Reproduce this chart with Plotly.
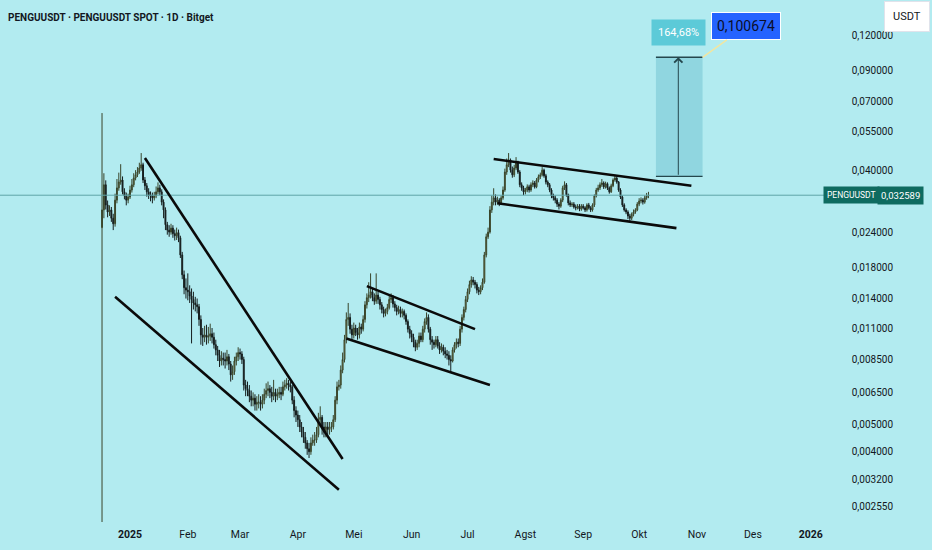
import numpy as np
import pandas as pd
import plotly.graph_objects as go

# daily candles, Bitget PENGUUSDT, starting at listing day
first_day = '2024-12-17'
first_open = 0.0250
closes = [
    0.0289, 0.0355, 0.0301, 0.0284, 0.0289, 0.0270, 0.0258, 0.0313, 0.0346, 0.0363,
    0.0369, 0.0335, 0.0324, 0.0313, 0.0321, 0.0340, 0.0355, 0.0375, 0.0385, 0.0394,
    0.0407, 0.0418, 0.0369, 0.0352, 0.0335, 0.0327, 0.0324, 0.0319, 0.0324, 0.0335,
    0.0346, 0.0335, 0.0308, 0.0289, 0.0256, 0.0245, 0.0241, 0.0249, 0.0238, 0.0234,
    0.0240, 0.0230, 0.0200, 0.0170, 0.0153, 0.0150, 0.0148, 0.0143, 0.0139, 0.0135,
    0.0133, 0.0131, 0.0118, 0.0104, 0.0102, 0.0104, 0.0102, 0.0103, 0.0105, 0.0102,
    0.0096, 0.0092, 0.0088, 0.0084, 0.0086, 0.0085, 0.0084, 0.0087, 0.0082, 0.0075,
    0.0077, 0.0084, 0.0087, 0.0090, 0.0089, 0.0085, 0.0069, 0.0067, 0.0066, 0.0063,
    0.0061, 0.0062, 0.0059, 0.0060, 0.0060, 0.0059, 0.0061, 0.0064, 0.0066, 0.0067,
    0.0065, 0.0063, 0.0065, 0.0063, 0.0064, 0.0065, 0.0064, 0.0068, 0.0069, 0.0070,
    0.0069, 0.0068, 0.0061, 0.0056, 0.0054, 0.0052, 0.0049, 0.0047, 0.0045, 0.0043,
    0.0041, 0.0040, 0.0043, 0.0044, 0.0044, 0.0046, 0.0052, 0.0053, 0.0049, 0.0047,
    0.0049, 0.0048, 0.0049, 0.0049, 0.0052, 0.0061, 0.0068, 0.0069, 0.0078, 0.0085,
    0.0100, 0.0118, 0.0120, 0.0109, 0.0104, 0.0110, 0.0106, 0.0104, 0.0111, 0.0109,
    0.0118, 0.0133, 0.0141, 0.0144, 0.0148, 0.0141, 0.0137, 0.0144, 0.0139, 0.0133,
    0.0128, 0.0124, 0.0126, 0.0130, 0.0139, 0.0141, 0.0134, 0.0130, 0.0126, 0.0128,
    0.0124, 0.0126, 0.0122, 0.0116, 0.0109, 0.0105, 0.0102, 0.0098, 0.0094, 0.0097,
    0.0103, 0.0100, 0.0109, 0.0116, 0.0120, 0.0109, 0.0100, 0.0098, 0.0096, 0.0100,
    0.0095, 0.0092, 0.0094, 0.0091, 0.0089, 0.0088, 0.0085, 0.0084, 0.0092, 0.0096,
    0.0098, 0.0097, 0.0109, 0.0120, 0.0128, 0.0139, 0.0148, 0.0157, 0.0163, 0.0160,
    0.0157, 0.0150, 0.0148, 0.0153, 0.0160, 0.0200, 0.0232, 0.0241, 0.0289, 0.0308,
    0.0319, 0.0308, 0.0313, 0.0306, 0.0319, 0.0340, 0.0394, 0.0418, 0.0435, 0.0400,
    0.0385, 0.0407, 0.0428, 0.0394, 0.0355, 0.0346, 0.0335, 0.0340, 0.0349, 0.0340,
    0.0355, 0.0360, 0.0349, 0.0369, 0.0379, 0.0385, 0.0400, 0.0382, 0.0363, 0.0355,
    0.0340, 0.0324, 0.0319, 0.0313, 0.0303, 0.0298, 0.0313, 0.0346, 0.0355, 0.0327,
    0.0306, 0.0301, 0.0303, 0.0296, 0.0294, 0.0298, 0.0291, 0.0298, 0.0294, 0.0289,
    0.0301, 0.0294, 0.0289, 0.0301, 0.0324, 0.0340, 0.0346, 0.0355, 0.0360, 0.0349,
    0.0358, 0.0346, 0.0335, 0.0352, 0.0369, 0.0375, 0.0363, 0.0340, 0.0321, 0.0301,
    0.0289, 0.0284, 0.0275, 0.0270, 0.0279, 0.0284, 0.0289, 0.0303, 0.0311, 0.0313,
    0.0308, 0.0319, 0.0324, 0.032589,
]
highs = [
    0.0638, 0.0390, 0.0368, 0.0312, 0.0300, 0.0296, 0.0280, 0.0330, 0.0372, 0.0392,
    0.0420, 0.0380, 0.0345, 0.0333, 0.0330, 0.0352, 0.0372, 0.0390, 0.0400, 0.0410,
    0.0425, 0.0460, 0.0425, 0.0378, 0.0360, 0.0345, 0.0336, 0.0333, 0.0335, 0.0350,
    0.0362, 0.0355, 0.0342, 0.0315, 0.0295, 0.0262, 0.0255, 0.0258, 0.0255, 0.0246,
    0.0250, 0.0246, 0.0234, 0.0205, 0.0176, 0.0165, 0.0172, 0.0156, 0.0152, 0.0148,
    0.0142, 0.0140, 0.0134, 0.0122, 0.0110, 0.0112, 0.0113, 0.0111, 0.0114, 0.0110,
    0.0106, 0.0100, 0.0095, 0.0092, 0.0091, 0.0090, 0.0090, 0.0092, 0.0089, 0.0084,
    0.0081, 0.0087, 0.0090, 0.0094, 0.0093, 0.0091, 0.0087, 0.0072, 0.0071, 0.0069,
    0.0066, 0.0065, 0.0064, 0.0063, 0.0064, 0.0063, 0.0064, 0.0067, 0.0070, 0.0071,
    0.0069, 0.0068, 0.0072, 0.0067, 0.0067, 0.0068, 0.0068, 0.0071, 0.0072, 0.0073,
    0.0072, 0.0071, 0.0069, 0.0063, 0.0058, 0.0056, 0.0054, 0.0051, 0.0049, 0.0047,
    0.0044, 0.0043, 0.0045, 0.0046, 0.0047, 0.0049, 0.0055, 0.0058, 0.0054, 0.0051,
    0.0051, 0.0051, 0.0051, 0.0051, 0.0054, 0.0063, 0.0071, 0.0072, 0.0081, 0.0090,
    0.0104, 0.0125, 0.0135, 0.0124, 0.0113, 0.0115, 0.0113, 0.0110, 0.0115, 0.0114,
    0.0122, 0.0137, 0.0146, 0.0160, 0.0172, 0.0152, 0.0146, 0.0172, 0.0148, 0.0142,
    0.0136, 0.0131, 0.0129, 0.0134, 0.0143, 0.0146, 0.0144, 0.0137, 0.0133, 0.0132,
    0.0131, 0.0129, 0.0128, 0.0124, 0.0118, 0.0112, 0.0108, 0.0105, 0.0100, 0.0100,
    0.0106, 0.0106, 0.0112, 0.0119, 0.0125, 0.0123, 0.0111, 0.0103, 0.0100, 0.0103,
    0.0103, 0.0098, 0.0097, 0.0096, 0.0094, 0.0092, 0.0091, 0.0088, 0.0094, 0.0098,
    0.0101, 0.0101, 0.0112, 0.0123, 0.0131, 0.0143, 0.0152, 0.0162, 0.0168, 0.0167,
    0.0163, 0.0160, 0.0154, 0.0156, 0.0165, 0.0205, 0.0238, 0.0250, 0.0298, 0.0325,
    0.0345, 0.0328, 0.0322, 0.0318, 0.0325, 0.0350, 0.0405, 0.0440, 0.0460, 0.0440,
    0.0412, 0.0418, 0.0445, 0.0432, 0.0400, 0.0362, 0.0352, 0.0346, 0.0356, 0.0355,
    0.0362, 0.0368, 0.0366, 0.0375, 0.0386, 0.0392, 0.0410, 0.0405, 0.0388, 0.0368,
    0.0360, 0.0345, 0.0330, 0.0325, 0.0318, 0.0308, 0.0318, 0.0352, 0.0365, 0.0360,
    0.0330, 0.0312, 0.0308, 0.0308, 0.0302, 0.0303, 0.0303, 0.0303, 0.0303, 0.0298,
    0.0305, 0.0306, 0.0298, 0.0305, 0.0328, 0.0346, 0.0355, 0.0362, 0.0372, 0.0365,
    0.0364, 0.0362, 0.0350, 0.0358, 0.0374, 0.0385, 0.0380, 0.0366, 0.0345, 0.0325,
    0.0305, 0.0293, 0.0288, 0.0280, 0.0283, 0.0290, 0.0293, 0.0308, 0.0318, 0.0320,
    0.0318, 0.0325, 0.0332, 0.0335,
]
lows = [
    0.0020, 0.0270, 0.0290, 0.0272, 0.0275, 0.0262, 0.0245, 0.0252, 0.0305, 0.0338,
    0.0355, 0.0328, 0.0315, 0.0300, 0.0305, 0.0316, 0.0333, 0.0348, 0.0368, 0.0378,
    0.0388, 0.0398, 0.0360, 0.0340, 0.0322, 0.0316, 0.0310, 0.0305, 0.0312, 0.0318,
    0.0328, 0.0326, 0.0300, 0.0270, 0.0245, 0.0236, 0.0232, 0.0236, 0.0230, 0.0225,
    0.0226, 0.0222, 0.0195, 0.0164, 0.0145, 0.0140, 0.0138, 0.0135, 0.0097, 0.0128,
    0.0126, 0.0124, 0.0112, 0.0096, 0.0095, 0.0098, 0.0096, 0.0097, 0.0099, 0.0097,
    0.0093, 0.0088, 0.0084, 0.0080, 0.0081, 0.0081, 0.0079, 0.0081, 0.0078, 0.0071,
    0.0072, 0.0075, 0.0081, 0.0084, 0.0085, 0.0082, 0.0066, 0.0063, 0.0063, 0.0060,
    0.0058, 0.0058, 0.0056, 0.0056, 0.0057, 0.0056, 0.0057, 0.0059, 0.0062, 0.0063,
    0.0062, 0.0060, 0.0061, 0.0060, 0.0061, 0.0062, 0.0061, 0.0063, 0.0066, 0.0067,
    0.0066, 0.0065, 0.0059, 0.0053, 0.0051, 0.0049, 0.0047, 0.0045, 0.0043, 0.0041,
    0.0039, 0.0038, 0.0039, 0.0042, 0.0042, 0.0043, 0.0045, 0.0050, 0.0046, 0.0045,
    0.0045, 0.0046, 0.0046, 0.0047, 0.0048, 0.0051, 0.0059, 0.0066, 0.0067, 0.0076,
    0.0083, 0.0097, 0.0112, 0.0105, 0.0100, 0.0101, 0.0103, 0.0100, 0.0101, 0.0105,
    0.0107, 0.0115, 0.0129, 0.0136, 0.0140, 0.0137, 0.0133, 0.0134, 0.0134, 0.0128,
    0.0124, 0.0120, 0.0121, 0.0123, 0.0128, 0.0135, 0.0130, 0.0126, 0.0122, 0.0123,
    0.0120, 0.0120, 0.0118, 0.0113, 0.0106, 0.0101, 0.0098, 0.0094, 0.0091, 0.0092,
    0.0094, 0.0098, 0.0098, 0.0106, 0.0113, 0.0106, 0.0096, 0.0092, 0.0093, 0.0094,
    0.0093, 0.0089, 0.0090, 0.0088, 0.0086, 0.0085, 0.0081, 0.0077, 0.0083, 0.0090,
    0.0093, 0.0094, 0.0095, 0.0106, 0.0117, 0.0125, 0.0136, 0.0145, 0.0153, 0.0156,
    0.0152, 0.0146, 0.0144, 0.0145, 0.0150, 0.0158, 0.0196, 0.0228, 0.0238, 0.0282,
    0.0300, 0.0300, 0.0302, 0.0298, 0.0302, 0.0314, 0.0335, 0.0385, 0.0410, 0.0392,
    0.0376, 0.0378, 0.0400, 0.0388, 0.0348, 0.0338, 0.0326, 0.0328, 0.0334, 0.0333,
    0.0335, 0.0348, 0.0344, 0.0345, 0.0362, 0.0372, 0.0380, 0.0376, 0.0356, 0.0348,
    0.0334, 0.0318, 0.0312, 0.0305, 0.0296, 0.0290, 0.0294, 0.0308, 0.0340, 0.0322,
    0.0300, 0.0296, 0.0296, 0.0292, 0.0288, 0.0290, 0.0286, 0.0287, 0.0290, 0.0284,
    0.0285, 0.0290, 0.0284, 0.0285, 0.0296, 0.0320, 0.0335, 0.0340, 0.0349, 0.0343,
    0.0344, 0.0340, 0.0330, 0.0332, 0.0348, 0.0364, 0.0358, 0.0335, 0.0316, 0.0296,
    0.0285, 0.0279, 0.0268, 0.0264, 0.0266, 0.0274, 0.0280, 0.0286, 0.0298, 0.0305,
    0.0302, 0.0304, 0.0314, 0.0318,
]

# hand-drawn trend lines (start, end)
wedge_top_dates = ['2025-01-09', '2025-04-25']
wedge_top_prices = [0.0442, 0.00377]
wedge_bot_dates = ['2024-12-24', '2025-04-23']
wedge_bot_prices = [0.0142, 0.00293]
flag_top_dates = ['2025-05-08', '2025-07-05']
flag_top_prices = [0.0155, 0.0109]
flag_bot_dates = ['2025-04-27', '2025-07-13']
flag_bot_prices = [0.0101, 0.0069]
chan_top_dates = ['2025-07-15', '2025-10-29']
chan_top_prices = [0.0438, 0.0352]
chan_bot_dates = ['2025-07-17', '2025-10-21']
chan_bot_prices = [0.0305, 0.0249]

# price-range projection
proj_dates = ['2025-10-10', '2025-11-04']
proj_mid = '2025-10-22'
proj_base = 0.03804
proj_target = 0.100674
proj_pct = '164,68%'
last_price = 0.032589

y_ticks = [0.00255, 0.0032, 0.004, 0.005, 0.0065, 0.0085, 0.011, 0.014,
           0.018, 0.024, 0.04, 0.055, 0.07, 0.09, 0.12]
month_ticks = ['2025-01-01', '2025-02-01', '2025-03-01', '2025-04-01', '2025-05-01',
               '2025-06-01', '2025-07-01', '2025-08-01', '2025-09-01', '2025-10-01',
               '2025-11-01', '2025-12-01', '2026-01-01', '2026-02-01']
month_labels = ['<b>2025</b>', 'Feb', 'Mar', 'Apr', 'Mei', 'Jun', 'Jul', 'Agst',
                'Sep', 'Okt', 'Nov', 'Des', '<b>2026</b>', 'Feb']

dates = pd.date_range(first_day, periods=len(closes), freq='D')
opens = [first_open] + closes[:-1]

BG = '#b2ebf0'
FONT = 'Roboto'
W, H = 932, 550
PLOT_H = H - 28
PLOT_R = 826
px_day = 1.865
jan1 = pd.Timestamp('2025-01-01')
x_start = jan1 - pd.Timedelta(days=130 / px_day)
x_end = jan1 + pd.Timedelta(days=(W - 130) / px_day)
x_scale_end = jan1 + pd.Timedelta(days=(PLOT_R - 130) / px_day)

fig = go.Figure()

fig.add_trace(go.Scatter(
    x=[x_start, x_scale_end], y=[last_price, last_price], mode='lines',
    line=dict(color='#5fa5a8', width=1), hoverinfo='skip'))

fig.add_trace(go.Candlestick(
    x=dates, open=opens, high=highs, low=lows, close=closes,
    increasing=dict(line=dict(color='#38442a', width=1), fillcolor='#a49b58'),
    decreasing=dict(line=dict(color='#161e1e', width=1), fillcolor='#161e1e'),
    whiskerwidth=0))

for xs, ys in [(wedge_top_dates, wedge_top_prices), (wedge_bot_dates, wedge_bot_prices),
               (flag_top_dates, flag_top_prices), (flag_bot_dates, flag_bot_prices),
               (chan_top_dates, chan_top_prices), (chan_bot_dates, chan_bot_prices)]:
    fig.add_trace(go.Scatter(x=xs, y=ys, mode='lines',
                             line=dict(color='#0a0a0a', width=2.6), hoverinfo='skip'))

d0, d1 = proj_dates
fig.add_trace(go.Scatter(
    x=[d0, d1, d1, d0, d0], y=[proj_base, proj_base, proj_target, proj_target, proj_base],
    fill='toself', fillcolor='rgba(80,175,195,0.35)', mode='lines',
    line=dict(width=0), hoverinfo='skip'))
fig.add_trace(go.Scatter(
    x=[d0, d1, None, d0, d1], y=[proj_target, proj_target, None, proj_base, proj_base],
    mode='lines', line=dict(color='#24474d', width=1.3), hoverinfo='skip'))

annotations = [
    dict(x=proj_mid, y=np.log10(proj_target), ax=proj_mid, ay=np.log10(proj_base),
         xref='x', yref='y', axref='x', ayref='y', text='', showarrow=True,
         arrowhead=4, arrowsize=1.6, arrowwidth=1, arrowcolor='#24474d'),
    dict(x=proj_mid, y=np.log10(proj_target), xref='x', yref='y', yshift=25,
         text=proj_pct, showarrow=False, bgcolor='#5ccad8', borderpad=6,
         font=dict(family=FONT, size=11, color='white')),
    dict(x=d1, y=np.log10(proj_target), xref='x', yref='y', text='0,100674',
         showarrow=True, arrowhead=0, arrowwidth=1.5, arrowcolor='#f2e6a0',
         ax=43, ay=-31, bgcolor='#2563ff', bordercolor='white', borderwidth=1,
         borderpad=5, font=dict(family=FONT, size=14, color='#0b0f2a')),
    dict(x=6 / W, y=1 - 18 / PLOT_H, xref='paper', yref='paper',
         xanchor='left', yanchor='middle',
         text='<b>PENGUUSDT · PENGUUSDT SPOT · 1D · Bitget</b>', showarrow=False,
         font=dict(family=FONT, size=10, color='#131722')),
    dict(x=907 / W, y=1 - 16 / PLOT_H, xref='paper', yref='paper',
         xanchor='center', yanchor='middle',
         text='USDT', showarrow=False, bgcolor='white', bordercolor='#e0e3eb',
         borderwidth=1, borderpad=8, font=dict(family=FONT, size=11, color='#131722')),
    dict(x=880 / W, y=np.log10(last_price), xref='paper', yref='y', xanchor='right',
         text='PENGUUSDT', showarrow=False, bgcolor='#0e6b60', borderpad=3,
         font=dict(family=FONT, size=8.5, color='white')),
    dict(x=924 / W, y=np.log10(last_price), xref='paper', yref='y', xanchor='right',
         text='0,032589', showarrow=False, bgcolor='#0e6b60', borderpad=3,
         font=dict(family=FONT, size=9.5, color='white')),
]

fig.update_layout(
    width=W, height=H, margin=dict(l=0, r=0, t=0, b=28),
    paper_bgcolor=BG, plot_bgcolor=BG, showlegend=False,
    annotations=annotations, hovermode=False,
    xaxis=dict(type='date', range=[x_start, x_end], rangeslider=dict(visible=False),
               tickvals=month_ticks, ticktext=month_labels, showgrid=False,
               zeroline=False, showline=False, ticks='', ticklabelstandoff=4,
               tickfont=dict(family=FONT, size=10.5, color='#131722')),
    yaxis=dict(type='log', side='right', range=[np.log10(0.002252), np.log10(0.1608)],
               tickvals=y_ticks, ticktext=[f'{v:.6f}'.replace('.', ',') for v in y_ticks],
               ticklabelposition='inside', ticklabelstandoff=36, showgrid=False,
               zeroline=False, showline=False, ticks='',
               tickfont=dict(family=FONT, size=10, color='#131722')),
)

fig.write_html("out.html", config={'displayModeBar': False},
               post_script="document.body.style.margin='0';")
